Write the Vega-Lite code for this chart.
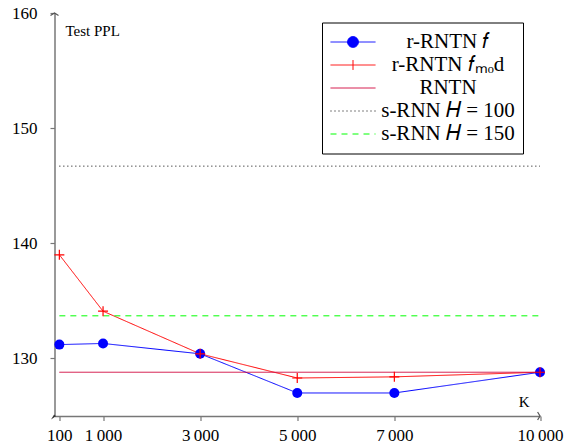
{
  "$schema": "https://vega.github.io/schema/vega-lite/v6.json",
  "width": 485.5,
  "height": 403,
  "autosize": {"type": "none"},
  "padding": {"left": 54.5, "top": 13, "right": 26, "bottom": 29},
  "background": "white",
  "config": {
    "view": {"stroke": null},
    "font": "Liberation Serif",
    "axis": {"labelFont": "Liberation Serif", "titleFont": "Liberation Serif"},
    "legend": {"labelFont": "Liberation Serif", "titleFont": "Liberation Serif"}
  },
  "data": {
    "values": [
      {"series": "r-RNTN f", "K": 100, "ppl": 131.2},
      {"series": "r-RNTN f", "K": 1000, "ppl": 131.3},
      {"series": "r-RNTN f", "K": 3000, "ppl": 130.4},
      {"series": "r-RNTN f", "K": 5000, "ppl": 127.0},
      {"series": "r-RNTN f", "K": 7000, "ppl": 127.0},
      {"series": "r-RNTN f", "K": 10000, "ppl": 128.8},
      {"series": "r-RNTN f_mod", "K": 100, "ppl": 139.0},
      {"series": "r-RNTN f_mod", "K": 1000, "ppl": 134.1},
      {"series": "r-RNTN f_mod", "K": 3000, "ppl": 130.4},
      {"series": "r-RNTN f_mod", "K": 5000, "ppl": 128.3},
      {"series": "r-RNTN f_mod", "K": 7000, "ppl": 128.4},
      {"series": "r-RNTN f_mod", "K": 10000, "ppl": 128.8},
      {"series": "RNTN", "K": 100, "ppl": 128.8},
      {"series": "RNTN", "K": 10000, "ppl": 128.8},
      {"series": "s-RNN H = 100", "K": 100, "ppl": 146.7},
      {"series": "s-RNN H = 100", "K": 10000, "ppl": 146.7},
      {"series": "s-RNN H = 150", "K": 100, "ppl": 133.7},
      {"series": "s-RNN H = 150", "K": 10000, "ppl": 133.7}
    ]
  },
  "layer": [
    {
      "mark": {"type": "line", "strokeWidth": 1},
      "encoding": {
        "x": {
          "field": "K", "type": "quantitative",
          "scale": {"domain": [0, 10000], "nice": false, "zero": false},
          "axis": {
            "values": [100, 1000, 3000, 5000, 7000, 10000],
            "labelExpr": "datum.value >= 1000 ? replace(format(datum.value, ','), ',', '\u2009') : format(datum.value, 'd')",
            "grid": false, "tickSize": 4.5, "tickColor": "#777777", "tickWidth": 1.2,
            "domainColor": "#777777", "domainWidth": 1.5,
            "labelFont": "Liberation Serif", "labelFontSize": 17, "labelColor": "black",
            "labelPadding": 7, "labelFlush": false, "labelOverlap": false, "labelAlign": "center",
            "title": "K", "titleFont": "Liberation Serif", "titleFontSize": 15, "titleFontWeight": "normal",
            "titleColor": "black", "titleX": 474.5, "titleY": -10, "titleAlign": "right", "titleBaseline": "alphabetic",
            "encode": {"ticks": {"update": {"y": {"value": -5}, "y2": {"value": 4.5}}}}
          }
        },
        "y": {
          "field": "ppl", "type": "quantitative",
          "scale": {"domain": [125, 160], "nice": false, "zero": false},
          "axis": {
            "values": [130, 140, 150, 160],
            "grid": false, "tickSize": 4.5, "tickColor": "#777777", "tickWidth": 1.2,
            "domainColor": "#777777", "domainWidth": 1.5,
            "labelFont": "Liberation Serif", "labelFontSize": 17, "labelColor": "black",
            "labelPadding": 13, "labelFlush": false, "labelOverlap": false, "labelAlign": "right", "labelBaseline": "middle",
            "title": "Test PPL", "titleFont": "Liberation Serif", "titleFontSize": 15, "titleFontWeight": "normal",
            "titleColor": "black", "titleAngle": 0, "titleX": 10.5, "titleY": 22, "titleAlign": "left", "titleBaseline": "alphabetic",
            "encode": {"ticks": {"update": {"x": {"value": 5}, "x2": {"value": -4.5}}}}
          }
        },
        "color": {
          "field": "series", "type": "nominal",
          "scale": {
            "domain": ["r-RNTN f", "r-RNTN f_mod", "RNTN", "s-RNN H = 100", "s-RNN H = 150"],
            "range": ["#0000ff", "#ff0000", "#d0003a", "#000000", "#00ff00"]
          },
          "legend": {
            "orient": "none", "legendX": 267.5, "legendY": 9.5,
            "title": null, "padding": 8, "strokeColor": "black", "fillColor": "white", "cornerRadius": 0,
            "symbolSize": 2025, "labelAlign": "center", "labelOffset": 72, "labelLimit": 0,
            "labelFont": "Liberation Serif", "labelFontSize": 21, "labelColor": "black",
            "clipHeight": 23, "rowPadding": 0,
            "labelExpr": "datum.label === 'r-RNTN f' ? 'r-RNTN 𝑓' : datum.label === 'r-RNTN f_mod' ? 'r-RNTN 𝑓ₘₒd' : replace(datum.label, 'H', '𝐻')",
            "encode": {
              "symbols": {
                "update": {
                  "shape": {"signal": "datum.value === 'r-RNTN f' ? 'M-1,0H1M-0.24,0A0.24,0.24,0,1,0,0.24,0A0.24,0.24,0,1,0,-0.24,0Z' : datum.value === 'r-RNTN f_mod' ? 'M-1,0H1M0,-0.22V0.22' : 'M-1,0H1'"},
                  "fill": {"signal": "datum.value === 'r-RNTN f' ? '#0000ff' : 'transparent'"},
                  "stroke": {"scale": "color", "field": "value"},
                  "strokeDash": {"signal": "datum.value === 's-RNN H = 100' ? [1, 3] : datum.value === 's-RNN H = 150' ? [6, 5] : [1, 0]"},
                  "strokeWidth": {"value": 1},
                  "opacity": {"value": 1}
                }
              }
            }
          }
        },
        "strokeDash": {
          "field": "series", "type": "nominal",
          "scale": {
            "domain": ["r-RNTN f", "r-RNTN f_mod", "RNTN", "s-RNN H = 100", "s-RNN H = 150"],
            "range": [[1, 0], [1, 0], [1, 0], [1, 3], [6, 5]]
          },
          "legend": null
        }
      }
    },
    {
      "transform": [{"filter": {"field": "series", "equal": "r-RNTN f"}}],
      "mark": {"type": "point", "shape": "circle", "filled": true, "size": 100, "color": "#0000ff", "opacity": 1},
      "encoding": {
        "x": {"field": "K", "type": "quantitative"},
        "y": {"field": "ppl", "type": "quantitative"}
      }
    },
    {
      "transform": [{"filter": {"field": "series", "equal": "r-RNTN f_mod"}}],
      "mark": {"type": "point", "shape": "M-1,0H1M0,-1V1", "filled": false, "size": 100, "color": "#ff0000", "strokeWidth": 1.2, "opacity": 1},
      "encoding": {
        "x": {"field": "K", "type": "quantitative"},
        "y": {"field": "ppl", "type": "quantitative"}
      }
    },
    {
      "data": {"values": [{"K": 10000, "ppl": 125}]},
      "mark": {"type": "point", "shape": "M-0.6,-1L0,0L-0.6,1", "filled": false, "size": 64, "color": "#555555", "strokeWidth": 1.2, "opacity": 1},
      "encoding": {
        "x": {"field": "K", "type": "quantitative"},
        "y": {"field": "ppl", "type": "quantitative"}
      }
    },
    {
      "data": {"values": [{"K": 0, "ppl": 160}]},
      "mark": {"type": "point", "shape": "M-1,0.6L0,0L1,0.6", "filled": false, "size": 64, "color": "#555555", "strokeWidth": 1.2, "opacity": 1},
      "encoding": {
        "x": {"field": "K", "type": "quantitative"},
        "y": {"field": "ppl", "type": "quantitative"}
      }
    },
    {
      "data": {"values": [{"K": 0, "ppl": 125}]},
      "mark": {"type": "point", "shape": "M-1,1L0.4,0.1L-0.1,-0.4Z", "filled": true, "size": 49, "color": "#333333", "opacity": 1},
      "encoding": {
        "x": {"field": "K", "type": "quantitative"},
        "y": {"field": "ppl", "type": "quantitative"}
      }
    }
  ]
}
